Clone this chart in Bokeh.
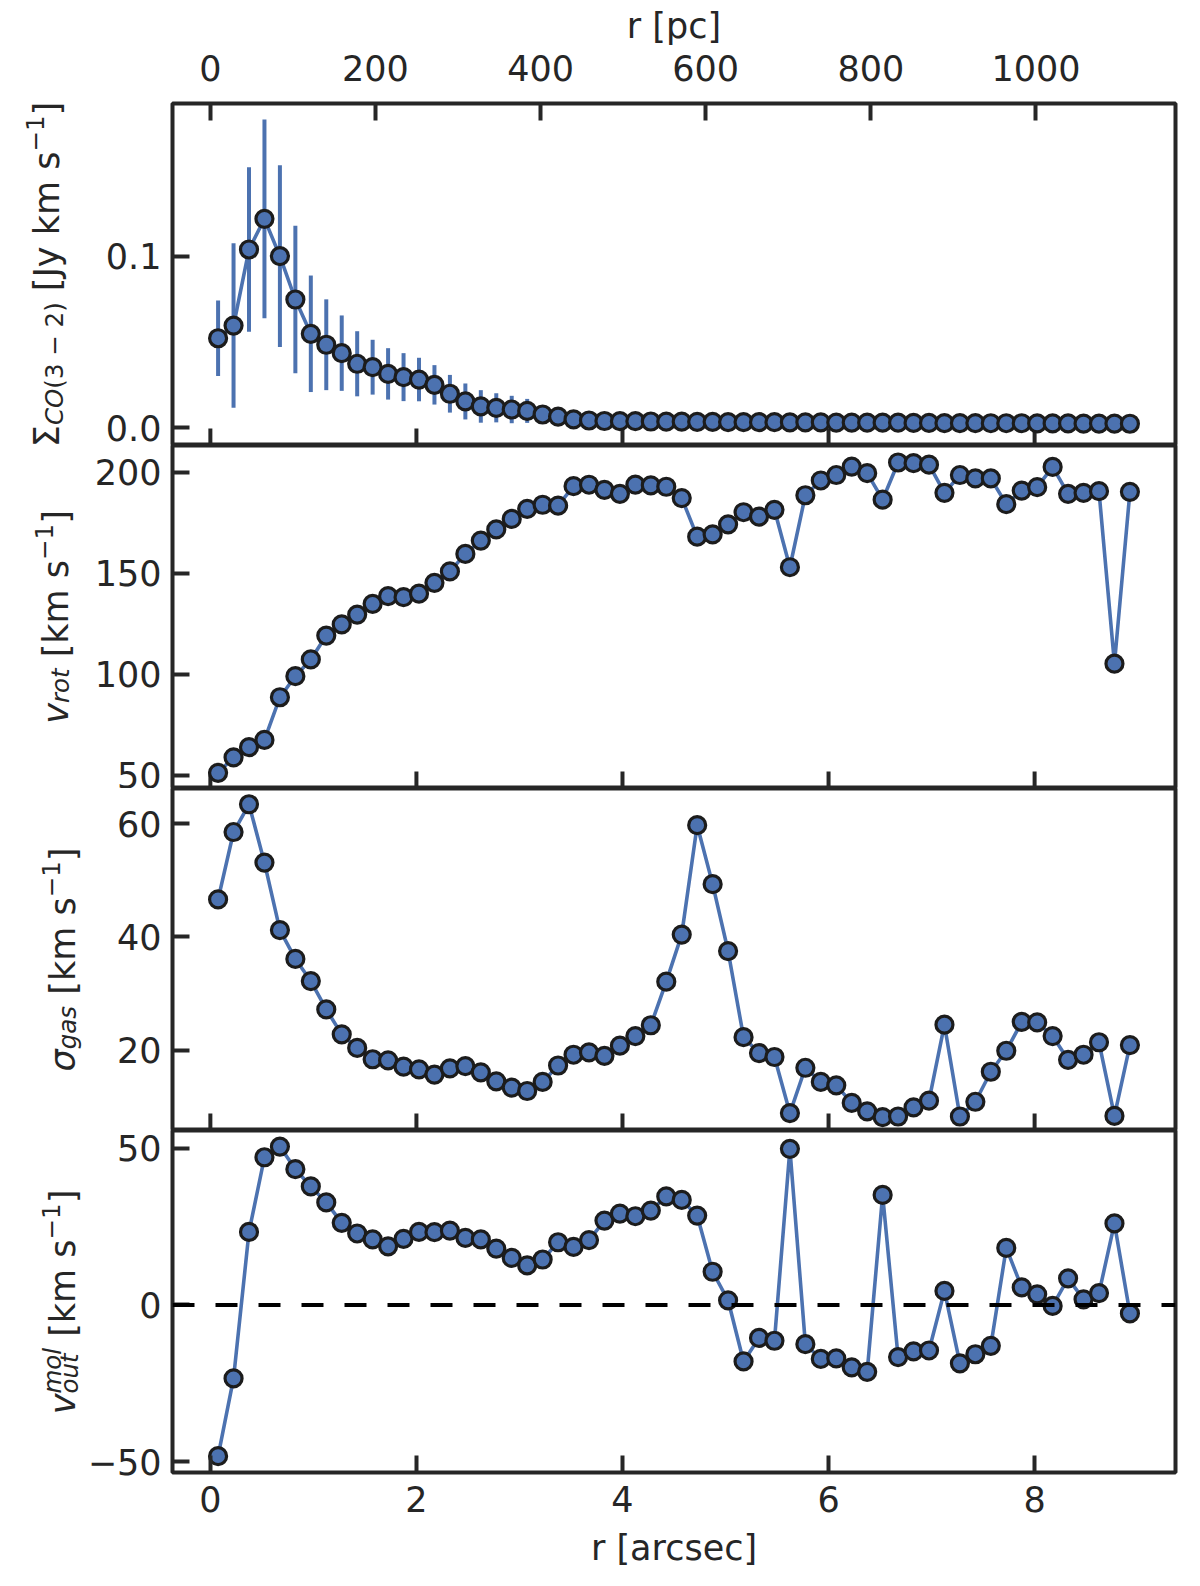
import math
from bokeh.plotting import figure
from bokeh.models import Range1d, LinearAxis, FixedTicker, Span
from bokeh.layouts import column, row
from bokeh.core.properties import value
from bokeh.embed import file_html
from bokeh.resources import INLINE

# ---------------- data ----------------
r_arcsec = [0.075, 0.225, 0.375, 0.525, 0.675, 0.825, 0.975, 1.125, 1.275, 1.425,
            1.575, 1.725, 1.875, 2.025, 2.175, 2.325, 2.475, 2.625, 2.775, 2.925,
            3.075, 3.225, 3.375, 3.525, 3.675, 3.825, 3.975, 4.125, 4.275, 4.425,
            4.575, 4.725, 4.875, 5.025, 5.175, 5.325, 5.475, 5.625, 5.775, 5.925,
            6.075, 6.225, 6.375, 6.525, 6.675, 6.825, 6.975, 7.125, 7.275, 7.425,
            7.575, 7.725, 7.875, 8.025, 8.175, 8.325, 8.475, 8.625, 8.775, 8.925]

sigma_co = [0.0521, 0.0595, 0.1039, 0.1218, 0.1000, 0.0747, 0.0547, 0.0483, 0.0434, 0.0372,
            0.0352, 0.0313, 0.0294, 0.0280, 0.0249, 0.0197, 0.0152, 0.0123, 0.0115, 0.0105,
            0.0097, 0.0076, 0.0064, 0.0047, 0.0041, 0.0038, 0.0037, 0.0037, 0.0035, 0.0034,
            0.0034, 0.0033, 0.0033, 0.0032, 0.0032, 0.0031, 0.0031, 0.0030, 0.0030, 0.0030,
            0.0029, 0.0029, 0.0028, 0.0028, 0.0028, 0.0027, 0.0027, 0.0026, 0.0026, 0.0026,
            0.0025, 0.0025, 0.0025, 0.0024, 0.0024, 0.0024, 0.0023, 0.0023, 0.0023, 0.0022]

sigma_co_err = [0.022, 0.048, 0.048, 0.058, 0.053, 0.043, 0.034, 0.0265, 0.022, 0.019,
                0.016, 0.015, 0.014, 0.0127, 0.0115, 0.011, 0.0105, 0.0095, 0.0085, 0.008,
                0.007, 0.005, 0.003, 0.002, 0.0015, 0.001, 0.001, 0.001, 0.001, 0.001,
                0.001, 0.001, 0.001, 0.001, 0.001, 0.0005, 0.0005, 0.0005, 0.0005, 0.0005,
                0.0005, 0.0005, 0.0005, 0.0005, 0.0005, 0.0005, 0.0005, 0.0005, 0.0005, 0.0005,
                0.0005, 0.0005, 0.0005, 0.0005, 0.0005, 0.0005, 0.0005, 0.0005, 0.0005, 0.0005]

v_rot = [51.3, 59.0, 64.0, 67.6, 88.7, 99.1, 107.4, 119.2, 124.7, 129.6,
         134.9, 138.7, 138.2, 139.9, 145.3, 150.9, 159.6, 166.2, 171.7, 176.9,
         181.9, 183.9, 183.5, 193.1, 193.8, 191.3, 189.3, 193.9, 193.5, 192.8,
         187.2, 168.1, 169.2, 174.2, 180.2, 178.0, 181.4, 153.0, 188.6, 195.9,
         198.6, 202.8, 199.5, 186.4, 204.8, 204.5, 203.7, 189.8, 198.6, 196.9,
         196.9, 184.2, 190.9, 192.6, 202.6, 189.3, 189.8, 190.6, 105.3, 190.3]

sigma_gas = [46.6, 58.5, 63.4, 53.1, 41.2, 36.1, 32.2, 27.2, 22.8, 20.4,
             18.4, 18.2, 17.1, 16.6, 15.7, 16.8, 17.2, 16.1, 14.5, 13.4,
             12.8, 14.4, 17.3, 19.2, 19.6, 19.0, 20.8, 22.5, 24.4, 32.1,
             40.4, 59.7, 49.3, 37.5, 22.3, 19.5, 18.8, 8.9, 16.9, 14.4,
             13.8, 10.7, 9.2, 8.2, 8.3, 9.9, 11.1, 24.5, 8.3, 10.9,
             16.2, 19.9, 25.0, 24.9, 22.5, 18.3, 19.2, 21.4, 8.4, 20.9]

v_out = [-48.2, -23.4, 23.3, 47.1, 50.5, 43.3, 37.8, 32.7, 26.2, 22.8,
         20.9, 18.7, 21.1, 23.3, 23.2, 23.7, 21.4, 20.9, 18.0, 15.0,
         12.6, 14.5, 20.0, 18.5, 20.7, 26.9, 29.1, 28.3, 30.1, 34.6,
         33.5, 28.5, 10.6, 1.5, -18.0, -10.5, -11.4, 49.8, -12.5, -17.2,
         -17.0, -19.9, -21.3, 35.1, -16.6, -14.8, -14.5, 4.5, -18.6, -15.7,
         -13.0, 18.2, 5.6, 3.4, -0.3, 8.5, 1.8, 3.8, 26.0, -2.7]

x_ticks = [0, 2, 4, 6, 8]
pc_ticks = [0, 200, 400, 600, 800, 1000]
sigma_co_ticks = [0.0, 0.1]
v_rot_ticks = [50, 100, 150, 200]
sigma_gas_ticks = [20, 40, 60]
v_out_ticks = [-50, 0, 50]
PC_PER_ARCSEC = 124.8

# ---------------- styling ----------------
BLUE = "#4C72B0"
INK = "#262626"
EDGE = "#1c1c1c"
FONT = "DejaVu Sans"
FS = 35
SUB = 24.5

TOTAL_H = 1570
LEFT_W = 84            # narrow figure that carries the y-axis titles
COL_W = 1100
BORDER_L = 86          # frame left at x = 170
BORDER_R = 9
X0, X1 = -0.3675, 9.3675
LABEL_SHIFT = -12      # rendering offset of rotated text

ADV = {" ": 0.318, "[": 0.390, "]": 0.390, "(": 0.390, ")": 0.390, "J": 0.295,
       "y": 0.592, "k": 0.579, "m": 0.974, "s": 0.521, "\u2212": 0.838,
       "1": 0.636, "2": 0.636, "3": 0.636, "\u03a3": 0.632, "C": 0.698,
       "O": 0.787, "v": 0.592, "r": 0.411, "o": 0.612, "t": 0.392,
       "\u03c3": 0.634, "g": 0.635, "a": 0.613, "u": 0.634, "l": 0.278}


def text_width(s, size):
    return sum(ADV.get(ch, 0.6) for ch in s) * size


def style_axis(ax, standoff):
    ax.axis_line_color = None
    ax.major_tick_in = 17
    ax.major_tick_out = 0
    ax.minor_tick_in = 0
    ax.minor_tick_out = 0
    ax.major_tick_line_color = INK
    ax.major_tick_line_width = 4
    ax.major_label_text_font = FONT
    ax.major_label_text_color = INK
    ax.major_label_text_font_size = f"{FS}px"
    ax.major_label_standoff = standoff
    ax.axis_label_text_font = FONT
    ax.axis_label_text_font_size = f"{FS}px"
    ax.axis_label_text_font_style = "normal"
    ax.axis_label_text_color = INK


def make_panel(height, ylim, yticks, border_top, border_bottom, with_x_axis, overrides=None):
    p = figure(width=COL_W, height=height,
               x_range=Range1d(X0, X1), y_range=Range1d(*ylim),
               x_axis_location="below" if with_x_axis else None,
               output_backend="svg", toolbar_location=None,
               min_border_left=BORDER_L, min_border_right=BORDER_R,
               min_border_top=border_top, min_border_bottom=border_bottom)
    p.grid.visible = False
    p.outline_line_color = INK
    p.outline_line_width = 4
    p.background_fill_color = "white"
    p.border_fill_color = "white"
    p.yaxis.ticker = FixedTicker(ticks=yticks)
    style_axis(p.yaxis[0], 11)
    if overrides:
        p.yaxis.major_label_overrides = overrides
    if with_x_axis:
        p.xaxis.ticker = FixedTicker(ticks=x_ticks)
        style_axis(p.xaxis[0], 13)
    else:
        # inward x ticks on the bottom edge (no labels), like the shared axis
        p.scatter(x=x_ticks, y=[ylim[0]] * len(x_ticks), marker="dash", size=34,
                  angle=math.pi / 2, line_color=INK, line_width=4)
    return p


def add_series(p, y):
    p.line(r_arcsec, y, line_color=BLUE, line_width=3.6)
    p.scatter(r_arcsec, y, size=17, fill_color=BLUE, line_color=EDGE, line_width=3.2)


# ---------------- panel 1: CO surface brightness ----------------
p1 = make_panel(445, (-0.0105, 0.1891), sigma_co_ticks, 103, 0, False,
                overrides={0.0: "0.0", 0.1: "0.1"})
lo = [v - e for v, e in zip(sigma_co, sigma_co_err)]
hi = [v + e for v, e in zip(sigma_co, sigma_co_err)]
p1.segment(x0=r_arcsec, y0=lo, x1=r_arcsec, y1=hi, line_color=BLUE, line_width=4)
add_series(p1, sigma_co)
p1.extra_x_ranges = {"pc": Range1d(X0 * PC_PER_ARCSEC, X1 * PC_PER_ARCSEC)}
top_ax = LinearAxis(x_range_name="pc", ticker=FixedTicker(ticks=pc_ticks), axis_label="r [pc]")
style_axis(top_ax, 23)
top_ax.axis_label_standoff = 6
p1.add_layout(top_ax, "above")

# ---------------- panel 2: rotation velocity ----------------
p2 = make_panel(343, (43.57, 213.2), v_rot_ticks, 0, 0, False)
add_series(p2, v_rot)

# ---------------- panel 3: velocity dispersion ----------------
p3 = make_panel(342, (5.83, 66.18), sigma_gas_ticks, 0, 0, False)
add_series(p3, sigma_gas)

# ---------------- panel 4: outflow velocity ----------------
p4 = make_panel(440, (-53.4, 55.63), v_out_ticks, 0, 97, True,
                overrides={-50: "\u221250"})
p4.add_layout(Span(location=0, dimension="width", line_color="black",
                   line_dash="22 21", line_width=3.8))
add_series(p4, v_out)
p4.xaxis.axis_label = "r [arcsec]"
p4.xaxis.axis_label_standoff = 13

# ---------------- y-axis titles (rich text with sub/superscripts) ----------------
lab = figure(width=LEFT_W, height=TOTAL_H, x_range=Range1d(0, LEFT_W), y_range=Range1d(0, TOTAL_H),
             x_axis_location=None, y_axis_location=None, output_backend="svg",
             toolbar_location=None, min_border=0)
lab.grid.visible = False
lab.outline_line_color = None


def add_ylabel(parts, center_y, baseline_x):
    widths = [max(text_width(t, s) for t, s, _, _ in g) for g in parts]
    pos = center_y + sum(widths) / 2.0
    for g, w in zip(parts, widths):
        for t, s, st, sh in g:
            if t.strip():
                lab.text(x=[baseline_x + sh + LABEL_SHIFT], y=[TOTAL_H - pos], text=[t],
                         angle=math.pi / 2,
                         text_font=value(FONT), text_font_size=value(f"{s}px"),
                         text_font_style=st, text_color=INK,
                         text_align="left", text_baseline="alphabetic")
        pos -= w


GAP = [(" ", FS, "normal", 0)]
KM = [("[km s", FS, "normal", 0)]
M1 = [("\u22121", SUB, "normal", -12)]
RB = [("]", FS, "normal", 0)]

add_ylabel([[("\u03a3", FS, "normal", 0)], [("CO", SUB, "italic", 7)],
            [("(3 \u2212 2)", SUB, "normal", 7)], GAP, [("[Jy km s", FS, "normal", 0)], M1, RB],
           274, 58.5)
add_ylabel([[("v", FS, "italic", 0)], [("rot", SUB, "italic", 5)], GAP, KM, M1, RB], 616.5, 67)
add_ylabel([[("\u03c3", FS, "italic", 0)], [("gas", SUB, "italic", 5)], GAP, KM, M1, RB], 959, 74)
add_ylabel([[("v", FS, "italic", 0)],
            [("mol", SUB, "italic", -10), ("out", SUB, "italic", 7)], GAP, KM, M1, RB], 1301.5, 74)

layout = row(lab, column(p1, p2, p3, p4, spacing=0), spacing=0)
open("out.html", "w").write(file_html(layout, INLINE))
